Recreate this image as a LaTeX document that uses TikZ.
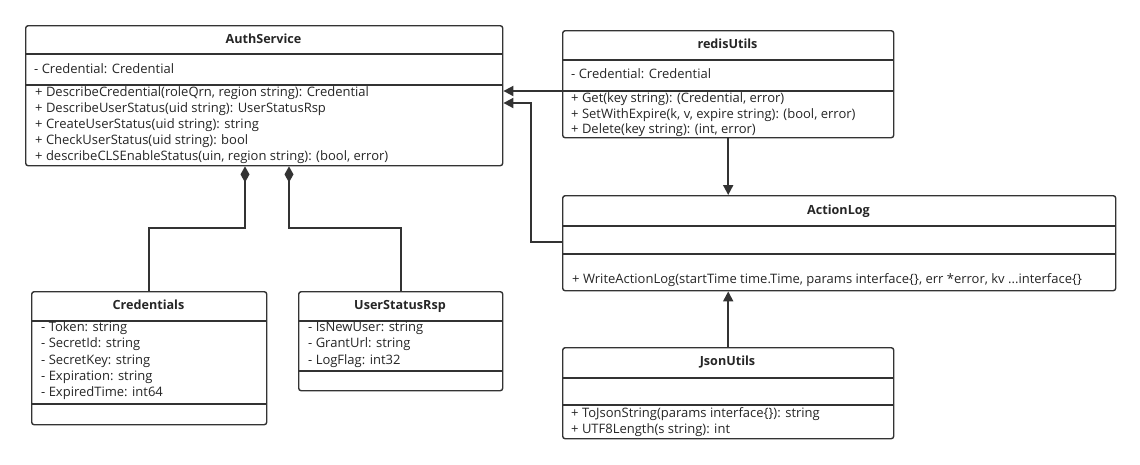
\documentclass[tikz,border=0pt]{standalone}
\usepackage{fontspec}
\setmainfont{Open Sans}
\usetikzlibrary{arrows.meta,calc}
\definecolor{ink}{HTML}{333333}
\definecolor{txt}{HTML}{262626}
\tikzset{
  box/.style={draw=ink,line width=1.4pt,rounded corners=2.5pt,anchor=north west,inner sep=0pt},
  sep/.style={draw=ink,line width=1.4pt},
  ttl/.style={font=\fontsize{12.6}{14}\selectfont\bfseries,text=txt,inner sep=0pt,anchor=mid},
  row/.style={font=\fontsize{13}{14}\selectfont,text=txt,inner sep=0pt,anchor=mid west},
  arr/.style={draw=ink,line width=1.8pt,-{Triangle[length=10pt,width=10pt]}},
  comp/.style={draw=ink,line width=1.8pt,{Diamond[length=16pt,width=9pt]}-},
}
\begin{document}
\begin{tikzpicture}[x=1pt,y=-1pt]
\useasboundingbox (0,0) rectangle (1140,464);
\fill[white] (0,0) rectangle (1140,464);

% AuthService
\node[box,minimum width=477pt,minimum height=140pt] (auth) at (25,25) {};
\draw[sep] (25,54) -- (502,54);
\draw[sep] (25,85) -- (502,85);
\node[ttl] (authT) at (263.5,41) {AuthService};
\node[row] (authA1) at (34,71) {- Credential: Credential};
\node[row] (authM1) at (35,94) {+ DescribeCredential(roleQrn, region string): Credential};
\node[row] (authM2) at (35,110) {+ DescribeUserStatus(uid string): UserStatusRsp};
\node[row] (authM3) at (35,126) {+ CreateUserStatus(uid string): string};
\node[row] (authM4) at (35,142) {+ CheckUserStatus(uid string): bool};
\node[row] (authM5) at (35,158) {+ describeCLSEnableStatus(uin, region string): (bool, error)};

% redisUtils
\node[box,minimum width=331pt,minimum height=107pt] (redis) at (562,30) {};
\draw[sep] (562,60) -- (893,60);
\draw[sep] (562,91) -- (893,91);
\node[ttl] (redisT) at (727.5,46) {redisUtils};
\node[row] (redisA1) at (571,76) {- Credential: Credential};
\node[row] (redisM1) at (571,100) {+ Get(key string): (Credential, error)};
\node[row] (redisM2) at (571,116) {+ SetWithExpire(k, v, expire string): (bool, error)};
\node[row] (redisM3) at (571,131) {+ Delete(key string): (int, error)};

% ActionLog
\node[box,minimum width=553pt,minimum height=95pt] (action) at (562,195) {};
\draw[sep] (562,226) -- (1115,226);
\draw[sep] (562,254) -- (1115,254);
\node[ttl] (actionT) at (838.5,212) {ActionLog};
\node[row] (actionM1) at (572,281) {+ WriteActionLog(startTime time.Time, params interface\{\}, err *error, kv ...interface\{\}};

% JsonUtils
\node[box,minimum width=331pt,minimum height=91pt] (json) at (562,347) {};
\draw[sep] (562,378) -- (893,378);
\draw[sep] (562,405) -- (893,405);
\node[ttl] (jsonT) at (727.5,363) {JsonUtils};
\node[row] (jsonM1) at (571,415) {+ ToJsonString(params interface\{\}): string};
\node[row] (jsonM2) at (571,431) {+ UTF8Length(s string): int};

% Credentials
\node[box,minimum width=235pt,minimum height=133pt] (cred) at (31,291) {};
\draw[sep] (31,321) -- (266,321);
\draw[sep] (31,404) -- (266,404);
\node[ttl] (credT) at (148.5,307) {Credentials};
\node[row] (credA1) at (41,329) {- Token: string};
\node[row] (credA2) at (41,345) {- SecretId: string};
\node[row] (credA3) at (41,362) {- SecretKey: string};
\node[row] (credA4) at (41,378) {- Expiration: string};
\node[row] (credA5) at (41,394) {- ExpiredTime: int64};

% UserStatusRsp
\node[box,minimum width=204pt,minimum height=99pt] (usr) at (298,291) {};
\draw[sep] (298,321) -- (502,321);
\draw[sep] (298,371) -- (502,371);
\node[ttl] (usrT) at (400,307) {UserStatusRsp};
\node[row] (usrA1) at (308,329) {- IsNewUser: string};
\node[row] (usrA2) at (308,345) {- GrantUrl: string};
\node[row] (usrA3) at (308,362) {- LogFlag: int32};

% connectors
\draw[arr] (redis.west |- 0,91) -- (auth.east |- 0,91);
\draw[arr] (action.west |- 0,242) -- (531,242) -- (531,103) -- (auth.east |- 0,103);
\draw[arr] (redis.south) -- (redis.south |- action.north);
\draw[arr] (json.north) -- (json.north |- action.south);
\draw[comp] (auth.south -| 245,0) -- (245,228) -| (cred.north);
\draw[comp] (auth.south -| 289,0) -- (289,228) -| (usr.north);
\end{tikzpicture}
\end{document}
